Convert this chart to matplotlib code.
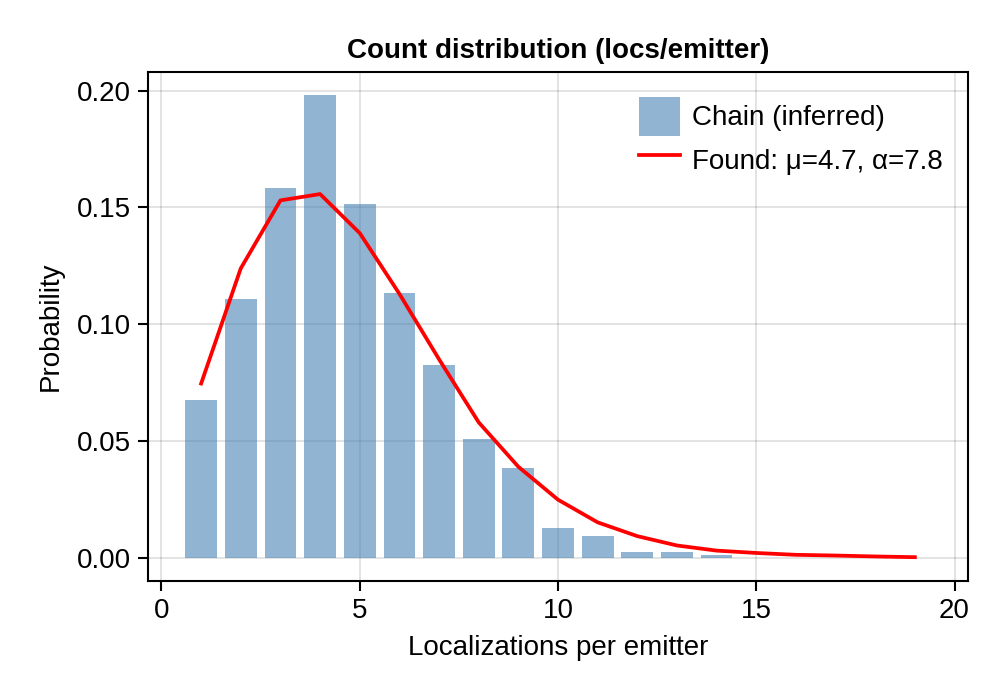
import matplotlib
matplotlib.use("Agg")
import matplotlib.pyplot as plt

plt.rcParams['font.family'] = ['Liberation Sans', 'DejaVu Sans']

# observed chain-size histogram
counts = [1, 2, 3, 4, 5, 6, 7, 8, 9, 10, 11, 12, 13, 14]
probs = [0.0677, 0.1109, 0.1583, 0.198, 0.1515, 0.1132, 0.0825, 0.0507, 0.0383,
         0.0127, 0.0093, 0.0024, 0.0024, 0.0013]

# fitted curve
fit_x = list(range(1, 20))
fit_y = [0.0746, 0.1239, 0.153, 0.1557, 0.139, 0.113, 0.085, 0.058, 0.039, 0.0249,
         0.0152, 0.0093, 0.0053, 0.0031, 0.0021, 0.0013, 0.001, 0.0006, 0.0003]

fig = plt.figure(figsize=(10, 7), dpi=100)
ax = fig.add_axes([0.148, 0.17, 0.82, 0.727])

bars = ax.bar(counts, probs, width=0.8, color='steelblue', alpha=0.6, zorder=2)
line, = ax.plot(fit_x, fit_y, color='red', lw=2.7, zorder=3)

ax.set_xlim(-0.34, 20.34)
ax.set_ylim(-0.0099, 0.2079)
ax.set_xticks([0, 5, 10, 15, 20])
ax.set_yticks([0.0, 0.05, 0.10, 0.15, 0.20])
ax.set_yticklabels(['0.00', '0.05', '0.10', '0.15', '0.20'])
ax.grid(True, color='black', alpha=0.12, lw=1.3, zorder=0)
ax.set_axisbelow(True)
for s in ax.spines.values():
    s.set_linewidth(1.5)
ax.tick_params(labelsize=20, length=7, width=1.5, direction='out', pad=5)

ax.set_title('Count distribution (locs/emitter)', fontsize=20, fontweight='bold', pad=10)
ax.set_xlabel('Localizations per emitter', fontsize=20, labelpad=8)
ax.set_ylabel('Probability', fontsize=20, labelpad=10)

ax.legend([bars, line], ['Chain (inferred)', 'Found: μ=4.7, α=7.8'],
          loc='upper right', frameon=False, fontsize=20, handlelength=1.45,
          handleheight=1.75, borderaxespad=0.5, labelspacing=0.2, handletextpad=0.45)

fig.savefig('out.png', dpi=100)
